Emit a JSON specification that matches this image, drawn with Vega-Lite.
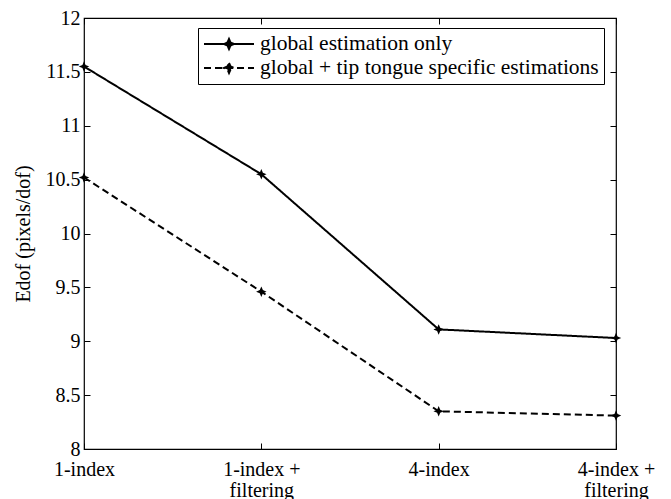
{
  "$schema": "https://vega.github.io/schema/vega-lite/v6.json",
  "width": 532,
  "height": 431,
  "autosize": {"type": "none"},
  "padding": {"left": 84, "top": 18, "right": 55, "bottom": 50},
  "background": "white",
  "config": {
    "font": "Liberation Serif",
    "view": {"stroke": "black", "strokeWidth": 1.2},
    "axis": {
      "grid": false,
      "domain": false,
      "ticks": true,
      "tickColor": "black",
      "tickWidth": 1,
      "tickSize": -6,
      "labelColor": "black",
      "labelFont": "Liberation Serif",
      "labelFontSize": 20,
      "titleFont": "Liberation Serif",
      "titleFontSize": 20,
      "titleFontWeight": "normal",
      "titleColor": "black"
    },
    "legend": {
      "labelFont": "Liberation Serif",
      "labelFontSize": 21.5,
      "labelColor": "black",
      "labelLimit": 0
    }
  },
  "data": {
    "values": [
      {"method": "1-index", "series": "global estimation only", "edof": 11.55},
      {"method": "1-index + filtering", "series": "global estimation only", "edof": 10.55},
      {"method": "4-index", "series": "global estimation only", "edof": 9.11},
      {"method": "4-index + filtering", "series": "global estimation only", "edof": 9.03},
      {"method": "1-index", "series": "global + tip tongue specific estimations", "edof": 10.52},
      {"method": "1-index + filtering", "series": "global + tip tongue specific estimations", "edof": 9.46},
      {"method": "4-index", "series": "global + tip tongue specific estimations", "edof": 8.35},
      {"method": "4-index + filtering", "series": "global + tip tongue specific estimations", "edof": 8.31}
    ]
  },
  "layer": [
    {
      "mark": {"type": "line", "color": "black", "strokeWidth": 2},
      "encoding": {
        "x": {
          "field": "method",
          "type": "ordinal",
          "sort": ["1-index", "1-index + filtering", "4-index", "4-index + filtering"],
          "scale": {"type": "point", "padding": 0},
          "axis": {
            "orient": "bottom",
            "title": null,
            "labelAngle": 0,
            "labelPadding": 16,
            "labelExpr": "replace(datum.label, ' filtering', '|filtering') == datum.label ? datum.label : split(replace(datum.label, ' filtering', '|filtering'), '|')",
            "labelLineHeight": 21
          }
        },
        "y": {
          "field": "edof",
          "type": "quantitative",
          "scale": {"domain": [8, 12], "nice": false, "zero": false},
          "axis": {
            "orient": "left",
            "title": "Edof (pixels/dof)",
            "values": [8, 8.5, 9, 9.5, 10, 10.5, 11, 11.5, 12],
            "format": "~g",
            "labelPadding": 10,
            "titlePadding": 12
          }
        },
        "strokeDash": {
          "field": "series",
          "type": "nominal",
          "scale": {
            "domain": ["global estimation only", "global + tip tongue specific estimations"],
            "range": [[1, 0], [7, 4]]
          },
          "legend": {
            "title": null,
            "orient": "none",
            "legendX": 114,
            "legendY": 10,
            "padding": 5,
            "strokeColor": "black",
            "fillColor": "white",
            "symbolType": "M-1,0H4M1.5,-0.5L1.65,-0.15L2,0L1.65,0.15L1.5,0.5L1.35,0.15L1,0L1.35,-0.15Z",
            "symbolSize": 400,
            "symbolStrokeColor": "black",
            "symbolFillColor": "black",
            "symbolStrokeWidth": 2,
            "labelOffset": 35,
            "rowPadding": 2
          }
        }
      }
    },
    {
      "mark": {
        "type": "point",
        "shape": "M0,-1L0.3,-0.3L1,0L0.3,0.3L0,1L-0.3,0.3L-1,0L-0.3,-0.3Z",
        "filled": true,
        "color": "black",
        "size": 110,
        "opacity": 1
      },
      "encoding": {
        "x": {
          "field": "method",
          "type": "ordinal",
          "sort": ["1-index", "1-index + filtering", "4-index", "4-index + filtering"],
          "scale": {"type": "point", "padding": 0},
          "axis": {"orient": "top", "title": null, "labels": false}
        },
        "y": {
          "field": "edof",
          "type": "quantitative",
          "scale": {"domain": [8, 12], "nice": false, "zero": false},
          "axis": {
            "orient": "right",
            "title": null,
            "labels": false,
            "values": [8, 8.5, 9, 9.5, 10, 10.5, 11, 11.5, 12]
          }
        }
      }
    }
  ],
  "resolve": {"axis": {"x": "independent", "y": "independent"}}
}
